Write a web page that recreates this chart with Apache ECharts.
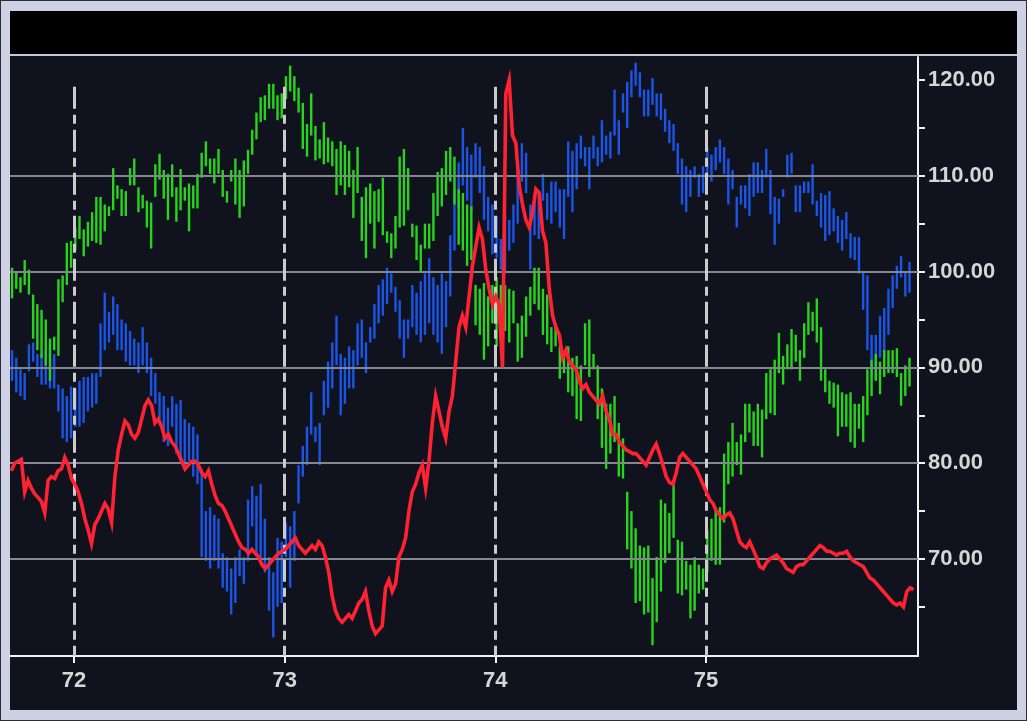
<!DOCTYPE html>
<html>
<head>
<meta charset="utf-8">
<script src="https://cdn.jsdelivr.net/npm/echarts@6/dist/echarts.min.js"></script>
<style>
html,body{margin:0;padding:0;background:#c9cde0;}
#c{width:1027px;height:721px;}
</style>
</head>
<body>
<div id="c"></div>
<script>
// ---------- data ----------
const xTickValues = [72, 73, 74, 75];
const yTickValues = [70, 80, 90, 100, 110, 120];
const gridLineValues = [70, 80, 90, 100, 110];
const markerTop = 119.3;

const barStart = 71.706;
const barStep = 0.02;

const greenHigh = [
100.4,100.0,99.4,101.2,100.2,97.6,96.6,96.0,95.0,93.0,93.2,99.2,99.6,103.0,103.2,104.6,105.8,104.4,105.2,106.2,
107.8,107.8,107.0,106.8,110.8,109.0,108.6,108.4,110.8,111.8,108.8,108.0,107.4,107.2,111.2,112.3,110.6,110.2,111.2,108.8,
110.7,108.8,109.2,109.0,110.2,
112.4,113.6,111.8,111.8,112.8,110.6,108.4,110.6,111.8,110.6,111.6,112.7,114.8,116.6,118.2,118.4,119.6,119.6,118.4,118.6,
120.4,121.5,120.4,119.2,117.6,115.4,118.6,115.2,113.8,115.6,114.0,113.6,112.8,113.6,113.2,112.6,110.6,113.0,107.8,108.8,
109.2,108.4,108.6,109.8,
104.2,104.0,105.8,112.0,112.8,110.8,105.0,104.8,102.8,105.0,105.0,108.2,110.4,110.8,112.6,113.0,112.0,108.6,108.2,107.0,
106.8,98.6,98.2,98.8,97.4,98.6,99.4,98.6,98.6,98.2,98.0,94.6,95.4,97.4,98.4,100.4,100.4,98.2,97.6,94.2,
94.2,92.2,91.4,92.2,
91.0,91.2,90.2,94.6,95.0,91.4,90.2,87.8,86.2,86.2,87.0,84.2,82.6,77.0,75.0,73.2,71.4,71.2,71.4,68.0,
70.2,76.2,75.8,74.8,77.8,72.0,71.8,69.8,69.4,70.2,69.4,69.0,73.0,74.2,75.0,75.4,81.0,82.2,84.2,82.2,
83.0,86.2,86.2,85.4,86.2,
85.6,89.4,89.8,90.8,93.6,91.2,92.4,94.0,93.4,91.8,94.6,96.8,95.8,97.2,94.2,89.8,88.6,88.4,88.2,87.4,
87.2,87.4,86.2,86.2,87.0,89.8,90.8,91.4,90.6,91.8,91.8,91.8,92.0,89.4,90.2,91.0
];
const greenLow = [
97.2,98.2,97.8,98.6,97.6,93.0,91.8,91.0,90.2,88.6,91.8,91.2,96.8,98.6,100.4,102.2,103.4,101.6,102.6,103.2,
103.0,102.8,104.2,105.8,106.4,107.6,105.8,105.8,109.0,109.0,106.2,106.6,104.6,102.4,107.8,109.6,107.6,105.4,107.8,105.2,
106.4,107.4,104.2,106.6,106.6,
109.8,111.0,110.2,109.2,110.2,107.8,107.2,109.4,107.0,105.6,106.8,110.2,112.2,113.8,115.6,115.8,117.0,117.0,115.8,116.0,
118.0,118.8,117.8,116.6,112.8,112.0,114.2,111.6,111.8,111.2,111.4,111.0,108.0,109.0,108.0,108.8,105.6,108.2,103.2,101.4,
105.0,102.4,105.2,103.8,
103.0,101.4,102.4,104.6,104.8,106.4,103.6,101.2,100.0,102.4,102.4,103.2,105.8,106.8,108.0,109.4,107.0,102.8,102.2,100.6,
101.2,94.4,93.4,90.8,92.2,94.6,92.2,93.4,93.8,92.6,94.6,90.6,91.0,93.2,95.4,96.6,96.0,93.4,92.4,91.6,
92.2,88.8,89.4,87.4,
87.0,84.6,84.4,90.2,89.0,89.8,84.6,81.6,79.4,81.0,82.2,78.6,78.4,71.0,69.0,65.4,65.6,64.2,64.4,61.0,
63.4,66.6,69.6,70.6,72.2,66.4,66.2,66.8,63.8,64.6,66.4,66.8,68.6,69.8,69.4,69.4,73.8,77.8,78.6,79.8,
78.8,82.2,83.2,81.8,81.8,
80.6,84.6,85.2,85.0,89.4,88.2,89.8,89.8,90.6,88.6,91.0,93.4,93.8,92.6,88.6,87.4,86.2,85.8,82.8,83.8,
83.8,82.2,81.6,83.6,82.2,85.0,87.0,88.6,87.2,89.0,89.4,89.4,89.0,86.0,87.0,88.0
];

const blueHigh = [
91.8,91.0,89.8,89.4,92.4,92.6,91.4,91.4,91.8,92.2,91.4,88.2,87.8,87.0,88.0,87.8,88.6,89.0,89.0,89.4,
89.4,94.6,97.8,95.8,97.4,96.6,95.0,94.6,93.8,93.0,92.6,94.2,92.6,91.0,89.4,87.4,87.0,85.8,87.0,86.2,
86.6,84.6,84.2,83.8,83.0,
79.4,75.0,75.4,74.6,74.2,70.6,70.2,69.0,70.2,71.0,70.2,76.2,77.6,76.6,77.8,74.2,70.2,68.6,72.2,71.8,
73.8,73.4,75.0,79.8,81.8,83.8,87.4,83.8,84.2,88.6,90.6,92.6,95.4,91.4,91.0,92.2,91.8,94.6,95.0,92.6,
94.2,96.6,98.6,99.2,
100.4,99.8,98.4,97.0,95.0,95.0,98.6,97.8,99.0,99.8,101.4,99.4,98.6,99.8,99.0,103.8,108.6,111.4,115.0,113.0,
112.2,113.4,113.0,111.0,107.8,107.0,105.8,103.4,105.8,105.4,107.0,111.0,113.4,112.4,107.0,108.2,107.8,110.2,108.2,109.4,
109.4,108.6,108.6,113.6,
112.6,113.4,114.2,113.0,113.0,114.2,113.0,115.8,114.2,114.6,119.0,115.8,118.6,119.8,121.0,121.8,120.8,119.0,119.0,120.2,
118.6,118.6,117.0,115.8,115.4,113.4,111.8,111.0,110.6,111.0,110.2,111.0,113.0,112.2,113.0,113.8,113.0,111.8,110.6,107.8,
109.0,109.0,110.2,111.4,111.4,
110.6,112.8,110.6,107.8,107.6,108.6,112.2,112.4,109.0,109.0,109.4,109.4,111.2,107.4,108.2,108.0,108.4,106.6,105.8,105.4,
106.2,104.0,103.6,103.6,100.0,99.6,93.4,93.4,95.4,96.2,98.2,99.6,100.6,101.6,100.0,101.0
];
const blueLow = [
88.6,87.4,87.0,86.6,89.6,90.6,89.0,88.2,88.2,87.8,87.8,85.4,82.6,82.2,82.6,83.8,83.8,84.2,85.4,85.8,
86.2,89.0,91.8,92.6,93.4,91.8,91.8,90.6,90.2,90.2,89.4,90.2,89.4,87.0,86.2,84.6,82.2,81.8,83.8,81.0,
80.2,79.8,80.2,78.6,77.8,
70.2,69.8,69.0,69.8,69.0,67.0,66.6,64.2,65.4,68.2,67.4,69.8,73.4,70.6,69.8,68.6,64.6,61.8,65.0,65.4,
70.2,67.0,69.8,75.8,78.6,79.8,83.0,82.2,79.8,85.0,85.8,87.8,90.2,85.0,86.2,87.8,87.8,90.2,91.0,89.4,
92.6,93.0,94.6,95.4,
96.6,97.8,95.8,93.0,91.0,93.0,94.2,93.4,92.6,93.4,94.6,93.4,92.6,91.4,94.2,97.4,102.2,106.6,109.0,107.4,
106.2,109.8,108.2,105.4,104.2,101.8,101.4,100.2,99.8,102.2,103.0,105.0,109.4,108.2,100.2,103.8,103.4,107.4,105.4,105.0,
106.2,104.6,103.4,107.8,
106.2,108.6,111.8,111.0,108.6,111.8,111.0,111.4,112.2,111.8,114.2,112.2,116.6,115.0,118.2,119.4,118.2,116.2,116.2,117.4,
116.2,115.8,114.6,113.4,112.6,110.2,107.0,106.2,107.8,109.8,107.8,108.2,109.8,109.4,110.6,111.4,110.2,107.0,108.6,104.6,
107.0,106.6,105.8,107.8,108.2,
108.2,109.8,106.0,102.8,105.0,107.8,109.8,110.2,106.2,106.2,108.2,108.2,107.0,105.8,104.6,103.2,103.8,104.2,103.0,102.2,
103.4,101.4,101.2,99.8,96.0,91.8,89.0,88.8,91.0,91.0,93.4,96.2,98.2,99.4,97.4,97.8
];

const redStart = 71.7025;
const redStep = 0.01586;
const redValues = [
79.2,80.0,80.2,80.4,77.0,78.2,77.4,76.8,76.4,76.0,74.8,78.2,78.6,78.4,79.2,79.4,80.6,79.8,78.4,77.8,
77.0,75.8,74.2,73.0,71.6,73.6,74.2,75.0,75.8,75.2,73.8,78.6,81.4,83.0,84.4,84.0,83.0,82.6,83.2,84.6,
86.0,86.6,86.0,84.2,84.6,83.8,82.6,83.0,82.2,81.8,81.0,80.2,79.4,79.8,80.2,
80.2,79.8,79.0,78.6,79.2,77.8,76.6,75.8,75.6,75.0,74.2,73.4,72.6,71.8,71.2,71.0,70.6,71.0,70.6,70.2,
69.4,69.0,69.4,69.8,70.2,70.6,70.8,71.0,71.4,71.8,72.2,71.4,71.0,70.6,71.0,71.4,71.0,71.8,71.4,70.2,
68.6,66.2,64.6,63.8,63.4,63.8,64.2,63.8,64.6,65.4,65.8,66.6,64.6,63.0,62.2,62.6,
63.0,67.0,67.8,66.6,67.4,70.2,71.0,72.2,75.0,77.0,77.8,79.0,79.8,77.4,80.2,84.2,87.0,85.4,83.8,82.6,
85.4,87.0,90.6,94.2,95.4,94.2,97.4,100.6,102.6,104.6,103.4,100.2,98.2,96.6,97.4,96.6,90.0,118.6,120.0,114.2,
113.4,109.0,107.0,105.4,104.6,106.2,108.6,108.2,104.2,103.0,98.2,95.4,94.2,93.4,91.0,91.8,
90.6,90.2,89.8,88.6,87.8,88.2,87.4,87.0,86.6,86.2,87.0,85.4,84.6,83.0,83.0,82.2,81.8,81.4,81.2,81.0,
81.0,80.6,80.2,79.8,80.6,81.4,82.0,81.0,79.8,78.6,78.0,77.8,79.0,80.6,81.0,80.6,80.2,79.8,79.4,78.6,
77.8,77.0,76.2,75.8,75.0,74.6,74.2,74.6,74.8,74.2,73.0,71.8,71.4,71.2,71.8,71.0,70.2,
69.2,69.0,69.6,70.0,70.2,70.4,70.0,69.6,69.0,68.8,68.6,69.2,69.4,69.4,69.8,70.2,70.6,71.0,71.4,71.2,
70.8,70.8,70.6,70.4,70.6,70.6,70.8,70.2,69.8,69.6,69.4,69.2,68.6,68.0,67.8,67.4,67.0,66.6,66.2,65.8,
65.4,65.2,65.4,65.0,66.6,67.0,66.8
];

// ---------- build ----------
const greenData = greenLow.map((lo, i) => [barStart + i * barStep, lo, greenHigh[i]]);
const blueData = blueLow.map((lo, i) => [barStart + i * barStep, lo, blueHigh[i]]);
const redData = redValues.map((v, i) => [redStart + i * redStep, v]);

const W = 1027, H = 721;
const plotL = 10, plotR = 918, plotT = 57, plotB = 656;
const xMin = 71.6962, xMax = 76.0063;
const yMin = 59.87, yMax = 122.4;

function barRenderer(color) {
  return function (params, api) {
    const x = api.value(0), lo = api.value(1), hi = api.value(2);
    const p1 = api.coord([x, hi]);
    const p2 = api.coord([x, lo]);
    return {
      type: 'rect',
      shape: { x: p1[0] - 1.2, y: p1[1], width: 2.4, height: Math.max(1, p2[1] - p1[1]) },
      style: { fill: color }
    };
  };
}

const labelFont = {
  color: '#d6d6d6',
  fontFamily: '"Liberation Sans", Arial, sans-serif',
  fontWeight: 'bold',
  fontSize: 22
};

const chart = echarts.init(document.getElementById('c'), null, { renderer: 'canvas', width: W, height: H });

const option = {
  animation: false,
  backgroundColor: '#c9cde0',
  graphic: [
    { type: 'rect', z: -10, shape: { x: 0, y: 0, width: W, height: H }, style: { fill: '#2a2c36' } },
    { type: 'rect', z: -9, shape: { x: 1, y: 1, width: W - 2, height: H - 2 }, style: { fill: '#cdd1e3' } },
    { type: 'rect', z: -8, shape: { x: 10, y: 11, width: 1007, height: 699 }, style: { fill: '#10131e' } },
    { type: 'rect', z: -7, shape: { x: 10, y: 11, width: 1007, height: 43 }, style: { fill: '#000000' } },
    { type: 'rect', z: -7, shape: { x: 10, y: 54, width: 1007, height: 2 }, style: { fill: '#c4c8d8' } }
  ],
  grid: [
    { left: plotL, right: W - plotR, top: plotT, bottom: H - plotB },
    { left: 74, right: W - 706, top: plotT, bottom: H - plotB },
    { left: plotL, right: W - plotR, top: 80, bottom: H - 606.9 }
  ],
  xAxis: [
    { gridIndex: 0, type: 'value', min: xMin, max: xMax,
      axisLine: { show: true, onZero: false, lineStyle: { color: '#f2f2f2', width: 2 } },
      axisTick: { show: false }, axisLabel: { show: false }, splitLine: { show: false } },
    { gridIndex: 1, type: 'value', min: 72, max: 75, interval: 1,
      axisLine: { show: false, onZero: false },
      axisTick: { show: true, length: 7, lineStyle: { color: '#f2f2f2', width: 2 } },
      axisLabel: Object.assign({ margin: 14, formatter: v => xTickValues.includes(v) ? String(v) : '' }, labelFont),
      splitLine: { show: false } },
    { gridIndex: 2, type: 'value', min: 0, max: 1, show: false }
  ],
  yAxis: [
    { gridIndex: 0, type: 'value', position: 'right', min: yMin, max: yMax,
      axisLine: { show: true, onZero: false, lineStyle: { color: '#f2f2f2', width: 2 } },
      axisTick: { show: false }, axisLabel: { show: false }, splitLine: { show: false } },
    { gridIndex: 1, type: 'value', min: 0, max: 1, show: false },
    { gridIndex: 2, type: 'value', position: 'right', min: 65, max: 120, interval: 5,
      axisLine: { show: false, onZero: false },
      axisTick: { show: true, length: 7, lineStyle: { color: '#f2f2f2', width: 2 } },
      axisLabel: Object.assign({ margin: 10, formatter: v => yTickValues.includes(v) ? v.toFixed(2) : '' }, labelFont),
      splitLine: { show: false } }
  ],
  series: [
    { type: 'line', xAxisIndex: 0, yAxisIndex: 0, data: [], z: 1, silent: true,
      markLine: { silent: true, symbol: 'none', label: { show: false },
        lineStyle: { color: '#85878e', width: 2, type: 'solid' },
        data: gridLineValues.map(v => ({ yAxis: v })) } },
    { type: 'custom', name: 'blue', xAxisIndex: 0, yAxisIndex: 0, z: 2,
      renderItem: barRenderer('#1a55e6'), encode: { x: 0, y: [1, 2] }, data: blueData },
    { type: 'custom', name: 'green', xAxisIndex: 0, yAxisIndex: 0, z: 3,
      renderItem: barRenderer('#28d41e'), encode: { x: 0, y: [1, 2] }, data: greenData },
    { type: 'line', xAxisIndex: 0, yAxisIndex: 0, data: [], z: 4, silent: true,
      markLine: { silent: true, symbol: 'none', label: { show: false },
        lineStyle: { color: '#cbcbcb', width: 3, type: [22, 6, 9, 6] },
        data: xTickValues.map(v => [{ coord: [v, markerTop] }, { coord: [v, yMin] }]) } },
    { type: 'line', name: 'red', xAxisIndex: 0, yAxisIndex: 0, z: 5,
      showSymbol: false, symbol: 'none', data: redData,
      lineStyle: { color: '#ff2233', width: 3.6, join: 'miter' } }
  ]
};
chart.setOption(option);
</script>
</body>
</html>
